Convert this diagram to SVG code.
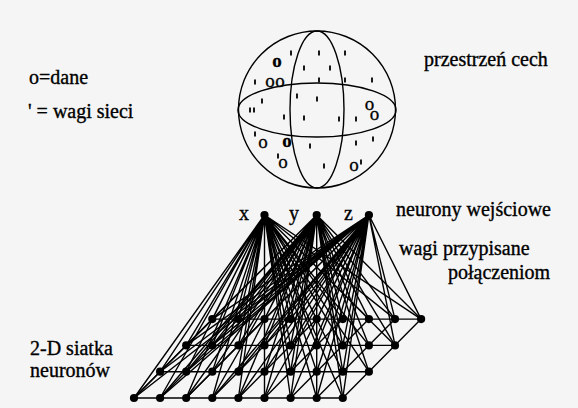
<svg xmlns="http://www.w3.org/2000/svg" xmlns:xlink="http://www.w3.org/1999/xlink" width="578" height="408" viewBox="0 0 578 408">
<style>
.bg{fill:#f5f5f5}
.lbl{font-family:"Liberation Serif","Times New Roman",serif;font-size:20px;fill:#000;stroke:#000;stroke-width:0.35}
.mk{font-family:"Liberation Serif","Times New Roman",serif;font-size:19px;fill:#000;text-anchor:middle;stroke:#000;stroke-width:0.3}
.mkb{font-weight:bold}
.tk{stroke:#000;stroke-width:1.8;fill:none}
.ln{stroke:#000;stroke-width:1.4;fill:none}
.sp{stroke:#000;stroke-width:1.4;fill:none}
</style>
<defs>
<circle id="dot" r="4.1" fill="#000"/>
</defs>
<rect class="bg" x="0" y="0" width="578" height="408"/>

<g id="legend">
<text class="lbl" x="29" y="84">o=dane</text>
<text class="lbl" x="28" y="118">' = wagi sieci</text>
</g>

<g id="sphere">
<circle class="sp" cx="317" cy="109.5" r="78.5"/>
<ellipse class="sp" cx="317" cy="110" rx="79" ry="27"/>
<ellipse class="sp" cx="317" cy="109.5" rx="27" ry="78.5"/>
<text class="mk mkb" x="277" y="67">o</text>
<text class="mk" x="270" y="87">o</text>
<text class="mk" x="280" y="87">o</text>
<text class="mk" x="369.5" y="110">o<tspan x="374.5" dy="9.5">o</tspan></text>
<text class="mk" x="263" y="148">o</text>
<text class="mk mkb" x="287" y="147">o</text>
<text class="mk" x="283" y="168">o</text>
<text class="mk" x="354" y="171">o</text>
<path class="tk" d="M291 50.5v5M319 50.5v5M345 50.5v5M255 79.5v5M304 65.5v5M330 65.5v5M319 77.5v5M345 77.5v5M372 77.5v5M262 98.5v5M250 107.5v5M254 107.5v5M297 93.5v5M317 96.5v5M284 114.5v5M304 115.5v5M339 116.5v5M356 116.5v5M255 131.5v5M310 143.5v5M356 140.5v5M373 136.5v5M278 153.5v5M324 163.5v5M361 159.5v5"/>
</g>

<g id="label-space"><text class="lbl" x="424" y="66">przestrzeń cech</text></g>
<g id="label-inputs"><text class="lbl" x="396" y="216">neurony wejściowe</text></g>
<g id="label-weights">
<text class="lbl" x="399" y="255">wagi przypisane</text>
<text class="lbl" x="448" y="279">połączeniom</text>
</g>
<g id="label-grid">
<text class="lbl" x="30" y="355">2-D siatka</text>
<text class="lbl" x="30" y="377">neuronów</text>
</g>

<g id="connectors">
<path class="ln" d="M134 398H342.8M160.1 371.7H368.9M186.2 345.4H395M212.3 319.1H421.1"/>
<path class="ln" d="M134 398L212.3 319.1M160.1 398L238.4 319.1M186.2 398L264.5 319.1M212.3 398L290.6 319.1M238.4 398L316.7 319.1M264.5 398L342.8 319.1M290.6 398L368.9 319.1M316.7 398L395 319.1M342.8 398L421.1 319.1"/>
<path class="ln" d="M264.5 215L134 398M264.5 215L160.1 398M264.5 215L186.2 398M264.5 215L212.3 398M264.5 215L238.4 398M264.5 215L264.5 398M264.5 215L290.6 398M264.5 215L316.7 398M264.5 215L342.8 398
M264.5 215L160.1 371.7M264.5 215L186.2 371.7M264.5 215L212.3 371.7M264.5 215L238.4 371.7M264.5 215L290.6 371.7M264.5 215L316.7 371.7M264.5 215L342.8 371.7M264.5 215L368.9 371.7
M264.5 215L186.2 345.4M264.5 215L212.3 345.4M264.5 215L238.4 345.4M264.5 215L290.6 345.4M264.5 215L316.7 345.4M264.5 215L342.8 345.4M264.5 215L368.9 345.4M264.5 215L395 345.4
M264.5 215L212.3 319.1M264.5 215L238.4 319.1M264.5 215L290.6 319.1M264.5 215L316.7 319.1M264.5 215L342.8 319.1M264.5 215L368.9 319.1M264.5 215L395 319.1M264.5 215L421.1 319.1"/>
<path class="ln" d="M316.7 215L134 398M316.7 215L160.1 398M316.7 215L186.2 398M316.7 215L212.3 398M316.7 215L238.4 398M316.7 215L264.5 398M316.7 215L290.6 398M316.7 215L316.7 398M316.7 215L342.8 398
M316.7 215L160.1 371.7M316.7 215L186.2 371.7M316.7 215L212.3 371.7M316.7 215L238.4 371.7M316.7 215L264.5 371.7M316.7 215L290.6 371.7M316.7 215L342.8 371.7M316.7 215L368.9 371.7
M316.7 215L186.2 345.4M316.7 215L212.3 345.4M316.7 215L238.4 345.4M316.7 215L264.5 345.4M316.7 215L290.6 345.4M316.7 215L342.8 345.4M316.7 215L368.9 345.4M316.7 215L395 345.4
M316.7 215L212.3 319.1M316.7 215L238.4 319.1M316.7 215L264.5 319.1M316.7 215L290.6 319.1M316.7 215L342.8 319.1M316.7 215L368.9 319.1M316.7 215L395 319.1M316.7 215L421.1 319.1"/>
<path class="ln" d="M368.9 215L134 398M368.9 215L160.1 398M368.9 215L186.2 398M368.9 215L212.3 398M368.9 215L238.4 398M368.9 215L264.5 398M368.9 215L290.6 398M368.9 215L316.7 398M368.9 215L342.8 398
M368.9 215L160.1 371.7M368.9 215L186.2 371.7M368.9 215L212.3 371.7M368.9 215L238.4 371.7M368.9 215L264.5 371.7M368.9 215L290.6 371.7M368.9 215L316.7 371.7M368.9 215L342.8 371.7
M368.9 215L186.2 345.4M368.9 215L212.3 345.4M368.9 215L238.4 345.4M368.9 215L264.5 345.4M368.9 215L290.6 345.4M368.9 215L316.7 345.4M368.9 215L342.8 345.4M368.9 215L395 345.4
M368.9 215L212.3 319.1M368.9 215L238.4 319.1M368.9 215L264.5 319.1M368.9 215L290.6 319.1M368.9 215L316.7 319.1M368.9 215L342.8 319.1M368.9 215L395 319.1M368.9 215L421.1 319.1"/>
</g>

<g id="in-x"><use xlink:href="#dot" x="264.5" y="215"/><text class="lbl" x="239" y="220">x</text></g>
<g id="in-y"><use xlink:href="#dot" x="316.7" y="215"/><text class="lbl" x="289" y="220">y</text></g>
<g id="in-z"><use xlink:href="#dot" x="368.9" y="215"/><text class="lbl" x="344" y="220">z</text></g>

<g id="grid">
<g id="n-0-0"><use xlink:href="#dot" x="134" y="398"/></g>
<g id="n-0-1"><use xlink:href="#dot" x="160.1" y="398"/></g>
<g id="n-0-2"><use xlink:href="#dot" x="186.2" y="398"/></g>
<g id="n-0-3"><use xlink:href="#dot" x="212.3" y="398"/></g>
<g id="n-0-4"><use xlink:href="#dot" x="238.4" y="398"/></g>
<g id="n-0-5"><use xlink:href="#dot" x="264.5" y="398"/></g>
<g id="n-0-6"><use xlink:href="#dot" x="290.6" y="398"/></g>
<g id="n-0-7"><use xlink:href="#dot" x="316.7" y="398"/></g>
<g id="n-0-8"><use xlink:href="#dot" x="342.8" y="398"/></g>
<g id="n-1-0"><use xlink:href="#dot" x="160.1" y="371.7"/></g>
<g id="n-1-1"><use xlink:href="#dot" x="186.2" y="371.7"/></g>
<g id="n-1-2"><use xlink:href="#dot" x="212.3" y="371.7"/></g>
<g id="n-1-3"><use xlink:href="#dot" x="238.4" y="371.7"/></g>
<g id="n-1-4"><use xlink:href="#dot" x="264.5" y="371.7"/></g>
<g id="n-1-5"><use xlink:href="#dot" x="290.6" y="371.7"/></g>
<g id="n-1-6"><use xlink:href="#dot" x="316.7" y="371.7"/></g>
<g id="n-1-7"><use xlink:href="#dot" x="342.8" y="371.7"/></g>
<g id="n-1-8"><use xlink:href="#dot" x="368.9" y="371.7"/></g>
<g id="n-2-0"><use xlink:href="#dot" x="186.2" y="345.4"/></g>
<g id="n-2-1"><use xlink:href="#dot" x="212.3" y="345.4"/></g>
<g id="n-2-2"><use xlink:href="#dot" x="238.4" y="345.4"/></g>
<g id="n-2-3"><use xlink:href="#dot" x="264.5" y="345.4"/></g>
<g id="n-2-4"><use xlink:href="#dot" x="290.6" y="345.4"/></g>
<g id="n-2-5"><use xlink:href="#dot" x="316.7" y="345.4"/></g>
<g id="n-2-6"><use xlink:href="#dot" x="342.8" y="345.4"/></g>
<g id="n-2-7"><use xlink:href="#dot" x="368.9" y="345.4"/></g>
<g id="n-2-8"><use xlink:href="#dot" x="395" y="345.4"/></g>
<g id="n-3-0"><use xlink:href="#dot" x="212.3" y="319.1"/></g>
<g id="n-3-1"><use xlink:href="#dot" x="238.4" y="319.1"/></g>
<g id="n-3-2"><use xlink:href="#dot" x="264.5" y="319.1"/></g>
<g id="n-3-3"><use xlink:href="#dot" x="290.6" y="319.1"/></g>
<g id="n-3-4"><use xlink:href="#dot" x="316.7" y="319.1"/></g>
<g id="n-3-5"><use xlink:href="#dot" x="342.8" y="319.1"/></g>
<g id="n-3-6"><use xlink:href="#dot" x="368.9" y="319.1"/></g>
<g id="n-3-7"><use xlink:href="#dot" x="395" y="319.1"/></g>
<g id="n-3-8"><use xlink:href="#dot" x="421.1" y="319.1"/></g>
</g>
</svg>
